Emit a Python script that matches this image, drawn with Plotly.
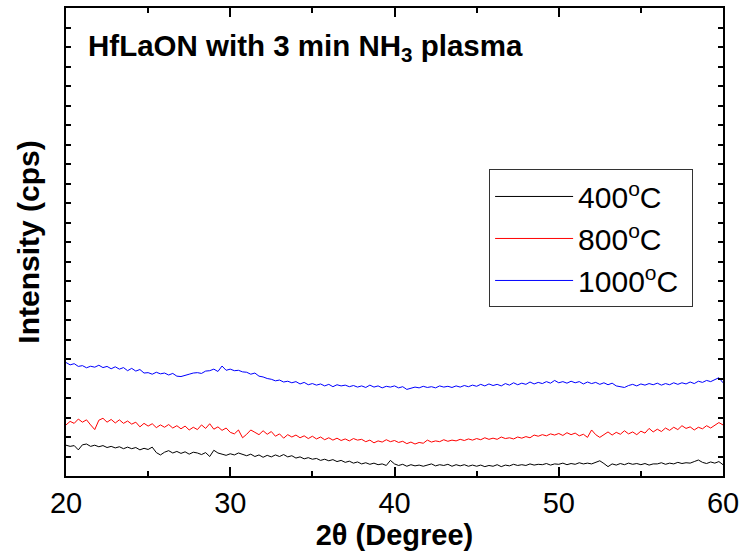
import numpy as np
import plotly.graph_objects as go

# 2-theta scan grid (degrees), 0.25 deg step
two_theta_start = 20.0
two_theta_step = 0.25

series_names = ["400<sup>o</sup>C", "800<sup>o</sup>C", "1000<sup>o</sup>C"]
series_colors = ["#000000", "#ff0000", "#0000ff"]

intensity_400 = [
    158, 152, 156, 134,
    160, 164, 152, 158,
    150, 156, 146, 152,
    144, 150, 140, 148,
    140, 146, 134, 142,
    136, 148, 120, 108,
    122, 130, 118, 126,
    116, 124, 112, 122,
    118, 110, 120, 100,
    132, 118, 112, 106,
    114, 108, 118, 110,
    104, 112, 100, 108,
    96, 106, 98, 108,
    100, 110, 98, 104,
    92, 98, 88, 94,
    86, 90, 80, 86,
    78, 84, 74, 80,
    70, 76, 66, 72,
    62, 68, 60, 66,
    58, 62, 54, 80,
    62, 54, 60, 50,
    58, 52, 56, 50,
    56, 62, 52, 58,
    54, 60, 50, 58,
    52, 58, 50, 56,
    50, 56, 48, 54,
    50, 58, 48, 56,
    52, 60, 54, 58,
    54, 62, 56, 60,
    58, 64, 56, 62,
    60, 66, 58, 64,
    60, 68, 62, 66,
    62, 70, 78, 64,
    48, 62, 56, 64,
    58, 66, 60, 64,
    58, 64, 56, 62,
    62, 68, 60, 66,
    62, 70, 64, 68,
    66, 74, 82, 70,
    64, 72, 66, 74,
    58,
]

intensity_800 = [
    262, 280, 270, 292,
    276, 288, 262, 238,
    286, 296, 276, 290,
    272, 288, 270, 282,
    266, 276, 252, 270,
    256, 268, 248, 262,
    250, 264, 246, 258,
    242, 256, 236, 250,
    238, 262, 244, 268,
    240, 252, 234, 246,
    224, 216, 236, 196,
    214, 236, 224, 212,
    232, 214, 228, 204,
    216, 194, 212, 200,
    210, 196, 206, 192,
    204, 190, 200, 186,
    196, 184, 194, 182,
    190, 180, 192, 184,
    188, 176, 184, 170,
    180, 174, 186, 176,
    182, 172, 178, 166,
    174, 164, 172, 168,
    184, 174, 180, 176,
    186, 178, 184, 180,
    188, 182, 190, 184,
    192, 186, 196, 188,
    194, 188, 200, 192,
    196, 190, 200, 194,
    202, 196, 210, 204,
    212, 206, 216, 210,
    218, 208, 222, 212,
    220, 206, 214, 198,
    236, 212, 198, 214,
    226, 210, 224, 214,
    232, 216, 226, 212,
    230, 220, 244, 226,
    240, 228, 246, 234,
    250, 238, 258, 244,
    252, 236, 250, 242,
    258, 246, 262, 274,
    262,
]

intensity_1000 = [
    582, 570, 576, 562,
    566, 555, 563, 558,
    568, 556, 562, 550,
    560, 548, 556, 540,
    552, 538, 546, 528,
    530, 522, 532, 524,
    528, 518, 526, 512,
    510, 518, 522, 528,
    530, 526, 538, 540,
    548, 536, 564, 542,
    548, 540, 542, 534,
    532, 522, 528, 512,
    508, 500, 496, 488,
    492, 482, 486, 478,
    484, 472, 480, 468,
    474, 466, 472, 462,
    470, 458, 468, 462,
    466, 458, 464, 456,
    462, 454, 466, 456,
    462, 452, 460, 456,
    462, 452, 458, 444,
    452, 456, 452, 460,
    454, 458, 452, 462,
    456, 460, 454, 462,
    456, 464, 458, 466,
    460, 470, 462, 472,
    464, 470, 462, 474,
    466, 478, 468, 476,
    470, 482, 472, 480,
    474, 484, 476, 490,
    478, 484, 476, 486,
    478, 484, 472, 482,
    474, 480, 470, 478,
    468, 476, 462, 458,
    454, 464, 470, 462,
    472, 466, 474, 468,
    476, 466, 474, 468,
    478, 470, 478, 472,
    482, 474, 486, 480,
    490, 484, 496, 504,
    478,
]

x_tick_vals = [20, 30, 40, 50, 60]
x_tick_text = ["20", "30", "40", "50", "60"]

FONT = "Arial, Liberation Sans, sans-serif"

fig = go.Figure()
for i, (name, color, vals) in enumerate(
    zip(series_names, series_colors, [intensity_400, intensity_800, intensity_1000])
):
    x = two_theta_start + two_theta_step * np.arange(len(vals))
    fig.add_trace(
        go.Scatter(
            x=x, y=vals, mode="lines", name=name + "\u00a0",
            line=dict(color=color, width=1),
            legendgroup=f"g{i}",
        )
    )

fig.update_layout(
    width=745, height=554,
    margin=dict(l=66, r=21, t=6, b=78),
    paper_bgcolor="white", plot_bgcolor="white",
    font=dict(family=FONT, size=29, color="black"),
    showlegend=True,
    legend=dict(
        x=0.644, y=0.655, xanchor="left", yanchor="top",
        bordercolor="#333333", borderwidth=1, bgcolor="white",
        font=dict(size=30), tracegroupgap=0, itemwidth=78,
    ),
    annotations=[
        dict(
            text="<b>HfLaON with 3 min NH<sub>3</sub> plasma</b>",
            xref="paper", yref="paper", x=0.03, y=0.916,
            xanchor="left", yanchor="middle", showarrow=False,
            font=dict(size=29.5, family=FONT),
        )
    ],
)

fig.update_xaxes(
    range=[20, 60], tickvals=x_tick_vals, ticktext=x_tick_text,
    ticks="inside", ticklen=9, tickwidth=1.5, tickcolor="black",
    minor=dict(dtick=5, tick0=25, ticks="inside", ticklen=5, tickwidth=1.5, tickcolor="black"),
    showline=True, linewidth=2, linecolor="black", mirror="ticks",
    showgrid=False, zeroline=False,
    tickfont=dict(size=29),
    title=dict(text="<b>2θ (Degree)</b>", font=dict(size=29), standoff=2),
)
fig.update_yaxes(
    range=[0, 2400], dtick=100, tick0=0,
    ticks="inside", ticklen=5, tickwidth=1.5, tickcolor="black",
    showticklabels=False,
    showline=True, linewidth=2, linecolor="black", mirror="ticks",
    showgrid=False, zeroline=False,
    title=dict(text="<b>Intensity (cps)</b>", font=dict(size=30), standoff=16),
)

fig.write_html(
    "out.html",
    config={"displayModeBar": False},
    post_script="document.body.style.margin='0';document.body.style.padding='0';",
)
